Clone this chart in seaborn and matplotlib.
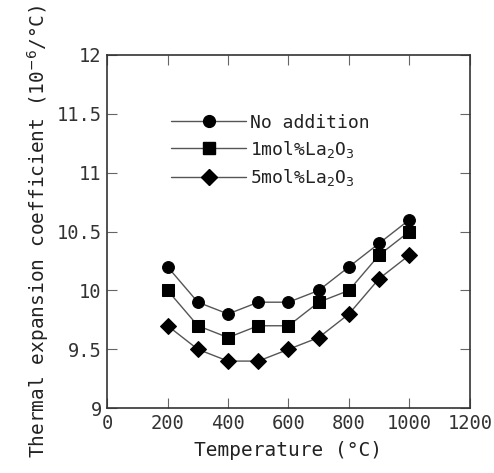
import matplotlib
matplotlib.use("Agg")
import matplotlib.pyplot as plt
import seaborn as sns
import pandas as pd
from matplotlib.lines import Line2D

temps = [200, 300, 400, 500, 600, 700, 800, 900, 1000]
no_add = [10.2, 9.9, 9.8, 9.9, 9.9, 10.0, 10.2, 10.4, 10.6]
la1 = [10.0, 9.7, 9.6, 9.7, 9.7, 9.9, 10.0, 10.3, 10.5]
la5 = [9.7, 9.5, 9.4, 9.4, 9.5, 9.6, 9.8, 10.1, 10.3]
labels = ["No addition", "1mol%La$_2$O$_3$", "5mol%La$_2$O$_3$"]
x_ticks = [0, 200, 400, 600, 800, 1000, 1200]
y_ticks = [9, 9.5, 10, 10.5, 11, 11.5, 12]
y_ticklabels = ["9", "9.5", "10", "10.5", "11", "11.5", "12"]

sns.set_style("ticks")
plt.rcParams['font.family'] = ['DejaVu Sans Mono', 'DejaVu Sans']
plt.rcParams['mathtext.fontset'] = 'dejavusans'
plt.rcParams['text.color'] = '#222222'
plt.rcParams['axes.labelcolor'] = '#222222'

rows = []
for lab, vals in zip(labels, [no_add, la1, la5]):
    for t, v in zip(temps, vals):
        rows.append({"T": t, "v": v, "s": lab})
df = pd.DataFrame(rows)

fig = plt.figure(figsize=(4.94, 4.73), dpi=100)
ax = fig.add_axes([0.217, 0.137, 0.734, 0.747])
sns.lineplot(data=df, x="T", y="v", hue="s", style="s",
             palette=["#555555"] * 3, markers=["o", "s", "D"], dashes=False,
             markersize=8.5, linewidth=1.0, ax=ax, legend=False)
for ln in ax.get_lines():
    ln.set_markerfacecolor("black")
    ln.set_markeredgecolor("black")
ax.get_lines()[2].set_markersize(8)

handles = [Line2D([], [], color="#555555", lw=1.0, marker=m, mfc="black", mec="black", ms=ms)
           for m, ms in zip(["o", "s", "D"], [8.5, 8.5, 8])]
ax.legend(handles, labels, loc="upper left", bbox_to_anchor=(0.13, 0.88), frameon=False,
          handlelength=4.2, handletextpad=0.2, fontsize=13, labelspacing=0.4)

ax.set_xlim(0, 1200)
ax.set_ylim(9, 12)
ax.set_xticks(x_ticks)
ax.set_yticks(y_ticks)
ax.set_yticklabels(y_ticklabels)
ax.tick_params(direction="in", top=True, right=True, labelsize=13.5, length=7,
               color="#666666", labelcolor="#333333", pad=4)
for sp in ax.spines.values():
    sp.set_color("#333333")
    sp.set_linewidth(1.2)
ax.set_xlabel("Temperature (\u00b0C)", fontsize=14, labelpad=6)
ax.set_ylabel("Thermal expansion coefficient (10$^{-6}$/\u00b0C)", fontsize=14, labelpad=4)

fig.savefig("out.png", dpi=100)
